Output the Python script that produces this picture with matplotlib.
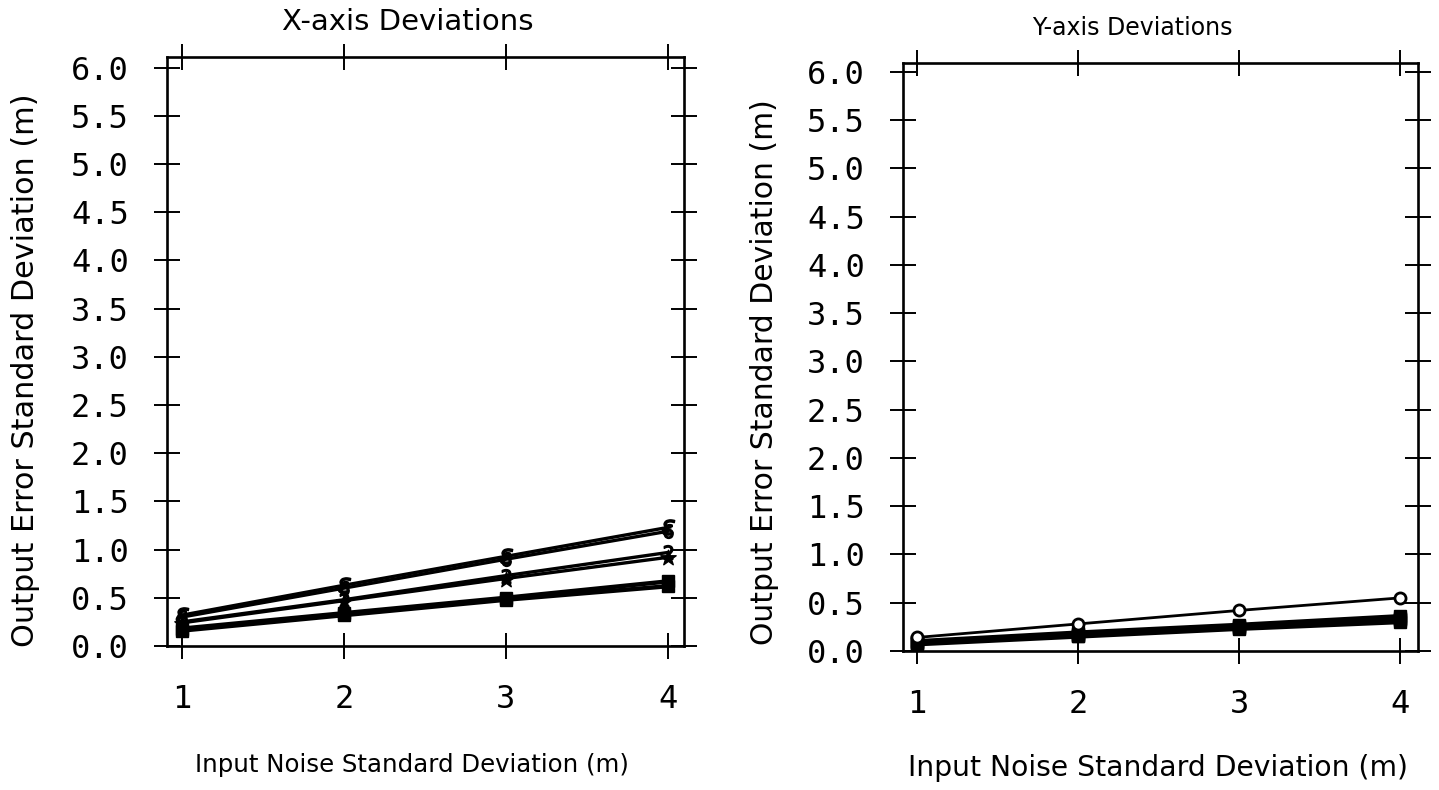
import matplotlib
matplotlib.use("Agg")
import matplotlib.pyplot as plt
from matplotlib.ticker import FormatStrFormatter

# input noise levels (m)
noise = [1, 2, 3, 4]

# output error std dev, x-axis
x_dev_a = [0.32, 0.63, 0.93, 1.23]
x_dev_b = [0.30, 0.60, 0.90, 1.19]
x_dev_c = [0.25, 0.48, 0.73, 0.97]
x_dev_d = [0.24, 0.47, 0.70, 0.92]
x_dev_e = [0.18, 0.34, 0.50, 0.67]
x_dev_f = [0.16, 0.32, 0.48, 0.62]

# output error std dev, y-axis
y_dev_a = [0.14, 0.28, 0.42, 0.55]
y_dev_b = [0.10, 0.19, 0.27, 0.36]
y_dev_c = [0.09, 0.18, 0.26, 0.34]
y_dev_d = [0.08, 0.17, 0.25, 0.33]
y_dev_e = [0.08, 0.16, 0.24, 0.32]
y_dev_f = [0.07, 0.15, 0.23, 0.30]

y_ticks = [0.0, 0.5, 1.0, 1.5, 2.0, 2.5, 3.0, 3.5, 4.0, 4.5, 5.0, 5.5, 6.0]

TICK_FONT = "DejaVu Sans Mono"
LABEL_FONT = "DejaVu Sans"


def style_axes(ax, xlim, ylim):
    ax.set_xlim(*xlim)
    ax.set_ylim(*ylim)
    ax.set_xticks(noise)
    ax.set_yticks(y_ticks)
    ax.yaxis.set_major_formatter(FormatStrFormatter("%.1f"))
    for s in ax.spines.values():
        s.set_linewidth(1.9)
    ax.tick_params(axis="both", which="major", direction="inout", length=19,
                   width=1.4, labelsize=23, pad=18,
                   top=True, right=True, labeltop=False, labelright=False)
    for lab in ax.get_xticklabels() + ax.get_yticklabels():
        lab.set_fontfamily(TICK_FONT)


def draw_series(ax, series):
    for vals, marker, ms, lw in series:
        ax.plot(noise, vals, color="black", linewidth=lw, marker=marker,
                markersize=ms, markerfacecolor="black",
                markeredgecolor="black", clip_on=False)


fig = plt.figure(figsize=(14.39, 7.90), dpi=100)

ax1 = fig.add_axes([0.116, 0.1823, 0.3594, 0.7455])
style_axes(ax1, (0.907, 4.10), (0.0, 6.11))
draw_series(ax1, [
    (x_dev_a, "$\\epsilon$", 11, 2.4),
    (x_dev_b, "$6$", 10, 2.4),
    (x_dev_c, "$2$", 10, 2.4),
    (x_dev_d, "$\\star$", 11, 2.4),
    (x_dev_e, "s", 8, 3.2),
    (x_dev_f, "s", 8, 3.2),
])

ax2 = fig.add_axes([0.6275, 0.176, 0.3579, 0.744])
style_axes(ax2, (0.913, 4.11), (0.0, 6.09))
ax2.plot(noise, y_dev_a, color="black", linewidth=2.0, marker="o",
         markersize=8, markerfacecolor="white", markeredgewidth=2.0,
         markeredgecolor="black", clip_on=False, zorder=3)
draw_series(ax2, [
    (y_dev_b, "s", 8, 3.2),
    (y_dev_c, "s", 8, 3.2),
    (y_dev_d, "s", 8, 3.2),
    (y_dev_e, "s", 8, 3.2),
    (y_dev_f, "s", 8, 3.2),
])

fig.text(0.2835, 0.972, "X-axis Deviations", fontsize=21, family=LABEL_FONT,
         ha="center", va="center")
fig.text(0.787, 0.965, "Y-axis Deviations", fontsize=17, family=LABEL_FONT,
         ha="center", va="center")

fig.text(0.0174, 0.532, "Output Error Standard Deviation (m)", fontsize=21.8,
         family=LABEL_FONT, rotation=90, ha="center", va="center")
fig.text(0.5316, 0.529, "Output Error Standard Deviation (m)", fontsize=21.5,
         family=LABEL_FONT, rotation=90, ha="center", va="center")

fig.text(0.2863, 0.0316, "Input Noise Standard Deviation (m)", fontsize=17.6,
         family=LABEL_FONT, ha="center", va="center")
fig.text(0.8047, 0.028, "Input Noise Standard Deviation (m)", fontsize=20.3,
         family=LABEL_FONT, ha="center", va="center")

fig.savefig("out.png", dpi=100)
